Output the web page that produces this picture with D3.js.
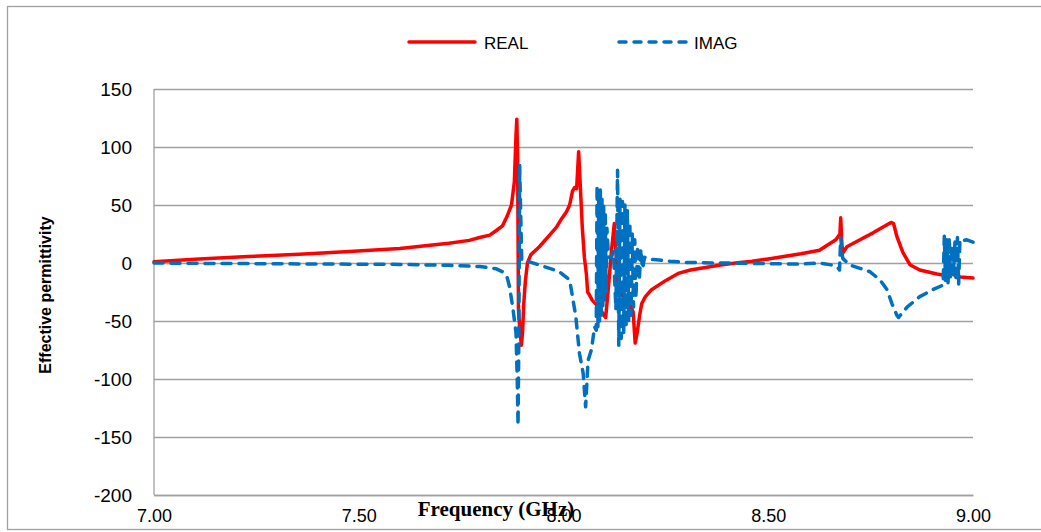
<!DOCTYPE html>
<html>
<head>
<meta charset="utf-8">
<script src="https://cdn.jsdelivr.net/npm/d3@7"></script>
<style>
  html, body { margin: 0; padding: 0; background: #ffffff; }
  svg { display: block; }
</style>
</head>
<body>
<svg id="chart" width="1041" height="532"></svg>
<script>
// ---------------- DATA ----------------
const seriesNames = ["REAL", "IMAG"];
const xTicks = [7.00, 7.50, 8.00, 8.50, 9.00];
const yTicks = [150, 100, 50, 0, -50, -100, -150, -200];

const realFreq = [7.00, 7.11, 7.23, 7.355, 7.477, 7.60, 7.72, 7.77, 7.795, 7.82, 7.836, 7.851, 7.862, 7.873, 7.880, 7.884, 7.886, 7.888, 7.890, 7.893, 7.897, 7.900, 7.903, 7.907, 7.912, 7.92, 7.941, 7.966, 7.983, 7.995, 8.007, 8.015, 8.022, 8.027, 8.032, 8.037, 8.046, 8.051, 8.056, 8.059, 8.064, 8.070, 8.078, 8.088, 8.098, 8.103, 8.110, 8.117, 8.124, 8.128, 8.132, 8.140, 8.150, 8.162, 8.170, 8.175, 8.180, 8.186, 8.191, 8.200, 8.215, 8.25, 8.28, 8.31, 8.38, 8.42, 8.46, 8.50, 8.58, 8.625, 8.665, 8.675, 8.677, 8.680, 8.683, 8.692, 8.724, 8.756, 8.790, 8.800, 8.806, 8.814, 8.829, 8.846, 8.870, 8.912, 8.939, 8.948, 8.952, 8.956, 8.97, 9.00];
const realVal  = [1, 3.5, 5.5, 7.5, 10, 12.5, 17, 19.5, 22, 24, 28, 32, 40, 50, 70, 110, 124, 90, -40, -55, -71, -60, -35, -15, 0, 7, 14, 24, 31, 38, 44, 50, 62, 65, 64, 96, 30, 5, -10, -25, -28, -32, -35, -38, -45, -47, -20, 10, 34, 10, -15, -26, -32, -36, -42, -69, -60, -45, -35, -29, -23, -15, -9, -6, -2, 0, 1.5, 3.5, 8, 11, 20, 25, 39, 15, 9, 14, 20, 26, 33, 35, 34, 23, 9, -1.5, -6, -9.5, -11, -10, -7, -11, -12, -13];

const imagFreq = [7.00, 7.11, 7.23, 7.355, 7.477, 7.60, 7.72, 7.795, 7.836, 7.851, 7.862, 7.868, 7.876, 7.884, 7.887, 7.889, 7.891, 7.893, 7.895, 7.898, 7.917, 7.941, 7.966, 7.99, 8.015, 8.020, 8.030, 8.039, 8.048, 8.054, 8.060, 8.068, 8.076, 8.080, 8.082, 8.084, 8.086, 8.088, 8.090, 8.092, 8.094, 8.096, 8.098, 8.100, 8.102, 8.104, 8.106, 8.110, 8.117, 8.122, 8.128, 8.132, 8.135, 8.138, 8.141, 8.144, 8.147, 8.150, 8.153, 8.156, 8.159, 8.162, 8.165, 8.168, 8.171, 8.174, 8.177, 8.181, 8.185, 8.189, 8.193, 8.198, 8.205, 8.22, 8.26, 8.30, 8.38, 8.46, 8.577, 8.626, 8.655, 8.670, 8.674, 8.677, 8.680, 8.682, 8.699, 8.724, 8.748, 8.773, 8.790, 8.802, 8.814, 8.818, 8.83, 8.839, 8.870, 8.902, 8.927, 8.930, 8.933, 8.936, 8.939, 8.942, 8.945, 8.948, 8.952, 8.956, 8.959, 8.962, 8.965, 8.968, 8.972, 8.985, 9.00];
const imagVal  = [0, -0.3, -0.5, -0.8, -1, -1.2, -2, -3, -5, -7.5, -12, -20, -38, -60, -100, -140, -60, 84, 50, 2.6, 1, -1.7, -4.6, -7.5, -14.6, -25, -46, -78, -95, -124, -84, -75, -55, -58, 67, -55, 60, -50, 63, -45, 55, -40, 50, -32, 45, -25, 30, 5, 5, 10, -40, 80, -71, 55, -65, 53, -60, 50, -55, 45, -50, 35, -45, 25, -38, 20, -30, 15, -15, 12, -5, 5, 3.5, 3, 1.5, 0.5, 0, -0.3, -1, 0, -1.7, -4, -6, 22, 10, 4, -1.7, -4.6, -7.5, -14.6, -23, -35, -45, -47, -42, -38, -29, -23, -19, 23, -15, 20, -17, 22, -12, 15, -10, 18, -16, 22, -18, 20, 19, 20, 18];

// ---------------- LAYOUT ----------------
const svg = d3.select("#chart");
const plot = { left: 154, right: 973, top: 89, bottom: 495 };

const x = d3.scaleLinear().domain([7, 9]).range([plot.left, plot.right]);
const y = d3.scaleLinear().domain([-200, 150]).range([plot.bottom, plot.top]);

// outer border
svg.append("rect")
  .attr("x", 7.5).attr("y", 6.5)
  .attr("width", 1040).attr("height", 523)
  .attr("fill", "none").attr("stroke", "#a0a0a0").attr("stroke-width", 1.3);

// horizontal gridlines + y labels via axis
const yAxis = d3.axisLeft(y).tickValues(yTicks).tickSize(-(plot.right - plot.left)).tickPadding(22).tickFormat(d => String(d));
const gy = svg.append("g").attr("transform", `translate(${plot.left},0)`).call(yAxis);
gy.select(".domain").remove();
gy.selectAll(".tick line").attr("stroke", "#a0a0a0").attr("stroke-width", 1.3);
gy.selectAll(".tick text")
  .attr("font-family", "'Liberation Sans', Arial, sans-serif")
  .attr("font-size", 19).attr("fill", "#000");

// y axis line
svg.append("line")
  .attr("x1", plot.left).attr("x2", plot.left)
  .attr("y1", plot.top).attr("y2", plot.bottom)
  .attr("stroke", "#a0a0a0").attr("stroke-width", 1.3);

// x axis
const xAxis = d3.axisBottom(x).tickValues(xTicks).tickSize(0).tickPadding(14).tickFormat(d3.format(".2f"));
const gx = svg.append("g").attr("transform", `translate(0,${plot.bottom})`).call(xAxis);
gx.select(".domain").attr("stroke", "#a0a0a0").attr("stroke-width", 1.3);
gx.selectAll(".tick text")
  .attr("font-family", "'Liberation Sans', Arial, sans-serif")
  .attr("font-size", 18).attr("fill", "#000");

// axis titles
svg.append("text")
  .attr("transform", `translate(51,${(plot.top + plot.bottom) / 2 + 3}) rotate(-90)`)
  .attr("text-anchor", "middle")
  .attr("font-family", "'Liberation Sans', Arial, sans-serif")
  .attr("font-weight", "bold").attr("font-size", 16)
  .text("Effective permittivity");

svg.append("text")
  .attr("x", 496).attr("y", 516)
  .attr("text-anchor", "middle")
  .attr("font-family", "'Liberation Serif', 'Times New Roman', serif")
  .attr("font-weight", "bold").attr("font-size", 21)
  .text("Frequency (GHz)");

// lines
const line = d3.line().x(d => x(d[0])).y(d => y(d[1]));
const realData = realFreq.map((f, i) => [f, realVal[i]]);
const imagData = imagFreq.map((f, i) => [f, imagVal[i]]);

svg.append("path").datum(realData)
  .attr("d", line).attr("fill", "none")
  .attr("stroke", "#ff0000").attr("stroke-width", 3.5)
  .attr("stroke-linejoin", "round").attr("stroke-linecap", "round");

svg.append("path").datum(imagData)
  .attr("d", line).attr("fill", "none")
  .attr("stroke", "#0070c0").attr("stroke-width", 3.5)
  .attr("stroke-dasharray", "9,8")
  .attr("stroke-linejoin", "round").attr("stroke-linecap", "round");

// legend
const legend = svg.append("g");
const legItems = [
  { name: seriesNames[0], color: "#ff0000", dash: null, x1: 409, x2: 475, tx: 484 },
  { name: seriesNames[1], color: "#0070c0", dash: "7,8", x1: 619, x2: 687, tx: 694 }
];
legItems.forEach(it => {
  legend.append("line")
    .attr("x1", it.x1).attr("x2", it.x2).attr("y1", 42).attr("y2", 42)
    .attr("stroke", it.color).attr("stroke-width", 3.5)
    .attr("stroke-linecap", "round")
    .attr("stroke-dasharray", it.dash);
  legend.append("text")
    .attr("x", it.tx).attr("y", 48.5)
    .attr("font-family", "'Liberation Sans', Arial, sans-serif")
    .attr("font-size", 17).attr("fill", "#000")
    .text(it.name);
});
</script>
</body>
</html>
